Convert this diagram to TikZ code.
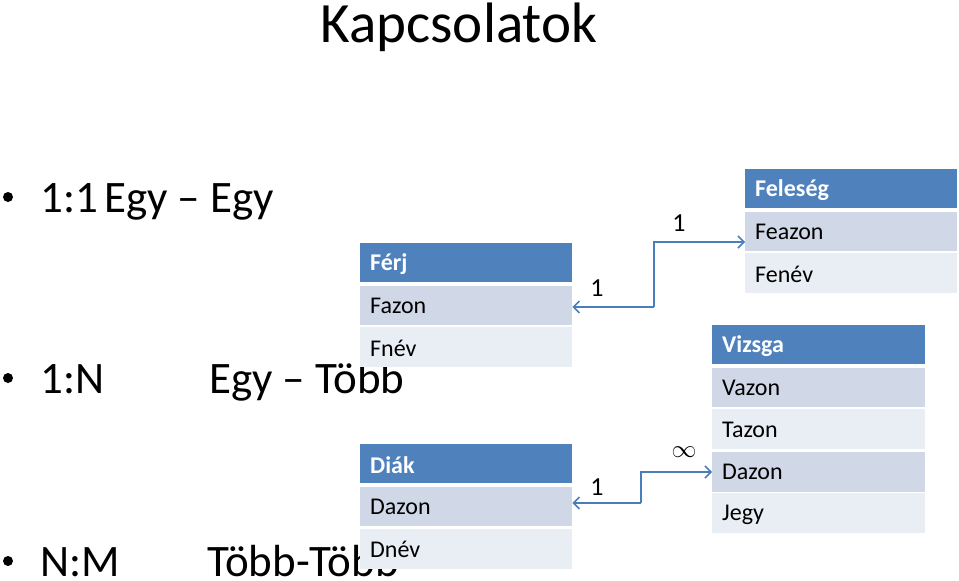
\documentclass[tikz,border=0pt]{standalone}
\usepackage{fontspec}
\setmainfont{Carlito}
\usetikzlibrary{arrows.meta}
\definecolor{hdr}{HTML}{4F81BD}
\definecolor{rowa}{HTML}{D0D8E8}
\definecolor{rowb}{HTML}{E9EDF4}
\definecolor{lnk}{HTML}{4A7EBB}
\tikzset{
  txt/.style={anchor=base west, inner sep=0pt, font=\fontsize{45}{54}\selectfont},
  hcell/.style={fill=hdr, anchor=north west, minimum width=212pt, minimum height=39pt, inner sep=0pt},
  acell/.style={fill=rowa, anchor=north west, minimum width=212pt, minimum height=39pt, inner sep=0pt},
  bcell/.style={fill=rowb, anchor=north west, minimum width=212pt, minimum height=40pt, inner sep=0pt},
  htext/.style={anchor=west, inner sep=0pt, text=white, font=\fontsize{24}{28}\selectfont\bfseries},
  ctext/.style={anchor=west, inner sep=0pt, font=\fontsize{24}{28}\selectfont},
  link/.style={draw=lnk, line width=1.5pt, -{Straight Barb[length=6pt,width=12pt]}},
  card/.style={inner sep=0pt, font=\fontsize{26}{30}\selectfont}
}
\begin{document}
\begin{tikzpicture}[x=1pt,y=-1pt]
\useasboundingbox (0,0) rectangle (959,581);
% title
\node (title) [anchor=base, inner sep=0pt, font=\fontsize{57}{68}\selectfont] at (459,42) {Kapcsolatok};
% bullets
\node (b1) [circle, fill=black, inner sep=0pt, minimum size=10pt] at (8,197) {};
\node (b2) [circle, fill=black, inner sep=0pt, minimum size=10pt] at (8,378) {};
\node (b3) [circle, fill=black, inner sep=0pt, minimum size=10pt] at (8,561) {};
\node (t1a) [txt] at (40,212) {1:1};
\node (t1b) [txt] at (104,212) {Egy -- Egy};
\node (t2a) [txt] at (40,393) {1:N};
\node (t2b) [txt] at (209,393) {Egy -- Több};
\node (t3a) [txt] at (40,576) {N:M};
\node (t3b) [txt] at (207,576) {Több-Több};
% Férj table
\node (ferj) [hcell] at (360,243) {};
\node (ferj1) [acell] at (360,286) {};
\node (ferj2) [bcell] at (360,327) {};
\node [htext] at (370,264) {Férj};
\node [ctext] at (370,306) {Fazon};
\node [ctext] at (370,348) {Fnév};
% Feleség table
\node (fel) [hcell] at (745,169) {};
\node (fel1) [acell] at (745,212) {};
\node (fel2) [bcell] at (745,253) {};
\node [htext] at (755,190) {Feleség};
\node [ctext] at (755,232) {Feazon};
\node [ctext] at (755,274) {Fenév};
% Diák table
\node (diak) [hcell] at (360,444) {};
\node (diak1) [acell] at (360,487) {};
\node (diak2) [bcell] at (360,529) {};
\node [htext] at (370,465) {Diák};
\node [ctext] at (370,507) {Dazon};
\node [ctext] at (370,549) {Dnév};
% Vizsga table
\node (vizs) [hcell, minimum width=213pt] at (712,325) {};
\node (vizs1) [acell, minimum width=213pt] at (712,368) {};
\node (vizs2) [bcell, minimum width=213pt] at (712,409) {};
\node (vizs3) [acell, minimum width=213pt, minimum height=40pt] at (712,452) {};
\node (vizs4) [bcell, minimum width=213pt] at (712,493) {};
\node [htext] at (722,346) {Vizsga};
\node [ctext] at (722,388) {Vazon};
\node [ctext] at (722,430) {Tazon};
\node [ctext] at (722,472) {Dazon};
\node [ctext] at (722,515) {Jegy};
% connectors
\coordinate (c1) at (654,307);
\coordinate (c2) at (654,242);
\draw [link] (c1) -- (ferj1.east |- c1);
\draw [link] (c1) -- (c2) -- (fel1.west |- c2);
\coordinate (d1) at (641,503);
\coordinate (d2) at (641,472);
\draw [link] (d1) -- (diak1.east |- d1);
\draw [link] (d1) -- (d2) -- (vizs3.west |- d2);
% cardinality labels
\node (l1) [card] at (597,288) {1};
\node (l2) [card] at (679,223) {1};
\node (l3) [card] at (597,487) {1};
\node (l4) [card, font=\fontsize{28}{30}\selectfont] at (684,452) {$\infty$};
\end{tikzpicture}
\end{document}
